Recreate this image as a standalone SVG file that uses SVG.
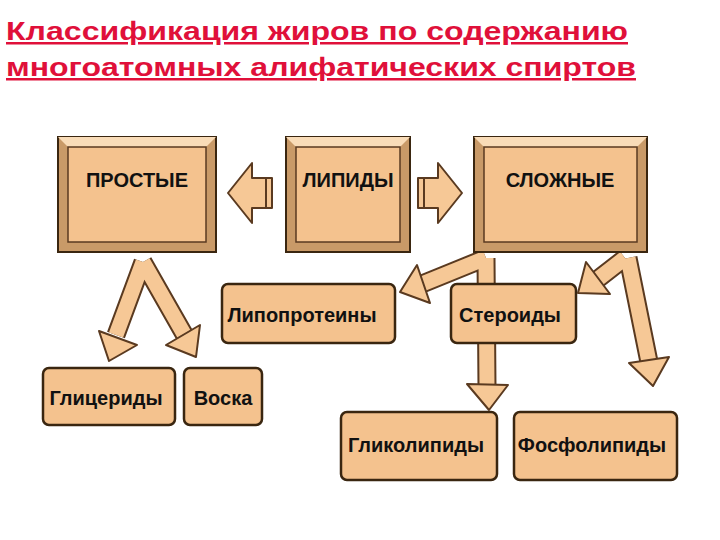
<svg xmlns="http://www.w3.org/2000/svg" width="720" height="540" viewBox="0 0 720 540">
<style>
.t{font-family:"Liberation Sans",Arial,sans-serif;font-weight:bold;fill:#e0103a;font-size:25px;text-decoration:underline}
.bt{font-family:"Liberation Sans",Arial,sans-serif;font-weight:bold;font-size:20px;fill:#111;text-anchor:middle}
.so{fill:none;stroke:#5a3a20;stroke-width:19}
.si{fill:none;stroke:#f6c896;stroke-width:15}
.hd{fill:#f6c896;stroke:#5a3a20;stroke-width:2;stroke-linejoin:round}
.outer{fill:#c99a68;stroke:#3a2610;stroke-width:2}
.top{fill:#f9dcb8}
.inner{fill:#f4c28e;stroke:#5a3a20;stroke-width:1.5}
.rb{fill:#f4c28e;stroke:#3a2610;stroke-width:2.5}
</style>
<rect width="720" height="540" fill="#fff"/>
<text class="t" x="6" y="40" textLength="622" lengthAdjust="spacingAndGlyphs">Классификация жиров по содержанию</text>
<text class="t" x="6" y="76" textLength="630" lengthAdjust="spacingAndGlyphs">многоатомных алифатических спиртов</text>
<g id="connectors">
<path class="so" d="M143 262L116 335M143 262L184 334M486 258L422 284M486 258L487 388M625 258L598 279M628 258L649 362"/>
<path class="si" d="M143 262L116 335M143 262L184 334M486 258L422 284M486 258L487 388M625 258L598 279M628 258L649 362"/>
<polygon class="hd" points="99,331 137,345 109,361"/>
<polygon class="hd" points="166,345 200,325 196,357"/>
<polygon class="hd" points="417,265 430,303 400,292"/>
<polygon class="hd" points="467,384 508,385 489,410"/>
<polygon class="hd" points="586,262 610,294 578,293"/>
<polygon class="hd" points="629,363 669,357 653,386"/>
<polygon class="hd" points="272,178 252,178 252,163 228,193 252,223 252,208 272,208"/>
<line x1="266" y1="178" x2="266" y2="208" stroke="#5a3a20" stroke-width="2"/>
<polygon class="hd" points="418,178 438,178 438,163 462,193 438,223 438,208 418,208"/>
<line x1="424" y1="178" x2="424" y2="208" stroke="#5a3a20" stroke-width="2"/>
</g>
<g id="prostye"><rect class="outer" x="58" y="137" width="158" height="115"/><polygon class="top" points="58,137 216,137 206,147 68,147"/><rect class="inner" x="68" y="147" width="138" height="95"/><text class="bt" x="137" y="187">ПРОСТЫЕ</text></g>
<g id="lipidy"><rect class="outer" x="286" y="137" width="124" height="115"/><polygon class="top" points="286,137 410,137 400,147 296,147"/><rect class="inner" x="296" y="147" width="104" height="95"/><text class="bt" x="348" y="187">ЛИПИДЫ</text></g>
<g id="slozhnye"><rect class="outer" x="474" y="137" width="173" height="115"/><polygon class="top" points="474,137 647,137 637,147 484,147"/><rect class="inner" x="484" y="147" width="153" height="95"/><text class="bt" x="560" y="187">СЛОЖНЫЕ</text></g>
<g id="lipoproteiny"><rect class="rb" x="222" y="284" width="173" height="59" rx="6"/><text class="bt" x="302" y="322">Липопротеины</text></g>
<g id="steroidy"><rect class="rb" x="451" y="284" width="125" height="59" rx="6"/><text class="bt" x="510" y="322">Стероиды</text></g>
<g id="glitseridy"><rect class="rb" x="43" y="368" width="132" height="57" rx="6"/><text class="bt" x="106" y="405">Глицериды</text></g>
<g id="voska"><rect class="rb" x="184" y="368" width="78" height="57" rx="6"/><text class="bt" x="223" y="405">Воска</text></g>
<g id="glikolipidy"><rect class="rb" x="341" y="412" width="156" height="68" rx="6"/><text class="bt" x="416" y="452">Гликолипиды</text></g>
<g id="fosfolipidy"><rect class="rb" x="514" y="412" width="163" height="68" rx="6"/><text class="bt" x="592" y="452">Фосфолипиды</text></g>
</svg>
